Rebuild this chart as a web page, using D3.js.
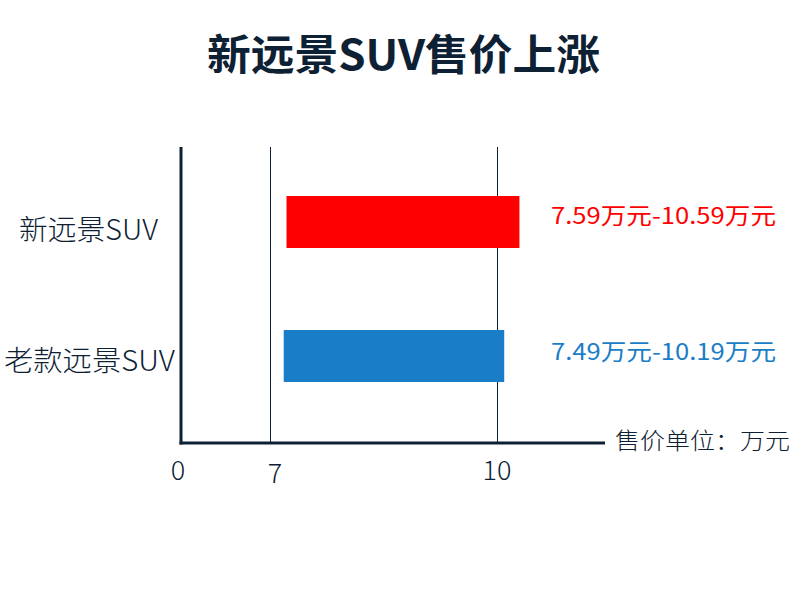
<!DOCTYPE html>
<html><head><meta charset="utf-8">
<script src="https://cdn.jsdelivr.net/npm/d3@7"></script>
<style>body{margin:0;background:#fff}svg{display:block}</style>
</head><body>
<svg id="c" width="800" height="600"></svg>
<script>
const title = "新远景SUV售价上涨";
const categories = ["新远景SUV", "老款远景SUV"];
const minPrice = [7.59, 7.49];
const maxPrice = [10.59, 10.19];
const priceLabels = ["7.59万元-10.59万元", "7.49万元-10.19万元"];
const barColors = ["#ff0000", "#1a7dc7"];
const tickValues = [0, 7, 10];
const gridValues = [7, 10];
const unitLabel = "售价单位：万元";

const svg = d3.select("#c");
const ink = "#0e2134";
const font = "'Noto Sans CJK SC', 'Noto Sans', sans-serif";

// broken (piecewise) axis, as in the original infographic
const x = d3.scaleLinear().domain([0, 7, 8, 10, 11]).range([181, 270, 298, 497, 535]);
const y = d3.scaleBand().domain(categories).range([155, 423]).paddingInner(0.612).paddingOuter(0.306);

svg.append("text").attr("x", 403.5).attr("y", 70).attr("text-anchor", "middle")
  .attr("font-family", font).attr("font-weight", 700).attr("font-size", 42).attr("fill", ink)
  .attr("textLength", 393).attr("lengthAdjust", "spacingAndGlyphs").text(title);

// grid lines
svg.selectAll("line.grid").data(gridValues).join("line").attr("class", "grid")
  .attr("x1", d => x(d) + 0.5).attr("x2", d => x(d) + 0.5).attr("y1", 147).attr("y2", 443)
  .attr("stroke", ink).attr("stroke-width", 1);

// bars
const data = categories.map((c, i) => ({c, lo: minPrice[i], hi: maxPrice[i], label: priceLabels[i], color: barColors[i]}));
svg.selectAll("rect.bar").data(data).join("rect").attr("class", "bar")
  .attr("x", d => x(d.lo)).attr("width", d => x(d.hi) - x(d.lo))
  .attr("y", d => y(d.c)).attr("height", y.bandwidth()).attr("fill", d => d.color);

// value labels
svg.selectAll("text.val").data(data).join("text").attr("class", "val")
  .attr("x", 776).attr("y", (d, i) => y(d.c) + y.bandwidth() / 2 + (i === 0 ? 2 : 4)).attr("text-anchor", "end")
  .attr("font-family", font).attr("font-weight", 400).attr("font-size", 23).attr("fill", d => d.color)
  .attr("textLength", 225).attr("lengthAdjust", "spacingAndGlyphs").text(d => d.label);

// category labels
svg.selectAll("text.cat").data(data).join("text").attr("class", "cat")
  .attr("x", (d, i) => i === 0 ? 88.5 : 89.5).attr("y", (d, i) => y(d.c) + y.bandwidth() / 2 + (i === 0 ? 18 : 15))
  .attr("text-anchor", "middle")
  .attr("font-family", font).attr("font-weight", 300).attr("font-size", 28).attr("fill", ink)
  .attr("textLength", (d, i) => i === 0 ? 139 : 171).attr("lengthAdjust", "spacingAndGlyphs").text(d => d.c);

// axes
svg.append("line").attr("x1", 181).attr("x2", 181).attr("y1", 147).attr("y2", 444.5)
  .attr("stroke", ink).attr("stroke-width", 3);
svg.append("line").attr("x1", 179.5).attr("x2", 605).attr("y1", 443).attr("y2", 443)
  .attr("stroke", ink).attr("stroke-width", 3);

// tick labels
svg.selectAll("text.tick").data(tickValues).join("text").attr("class", "tick")
  .attr("x", d => d === 0 ? 178 : d === 7 ? 275 : 497).attr("y", d => d === 7 ? 483 : 480)
  .attr("text-anchor", "middle")
  .attr("font-family", font).attr("font-weight", 300).attr("font-size", 27).attr("fill", ink).text(d => d);

svg.append("text").attr("x", 790).attr("y", 449).attr("text-anchor", "end")
  .attr("font-family", font).attr("font-weight", 300).attr("font-size", 23).attr("fill", ink)
  .attr("textLength", 175).attr("lengthAdjust", "spacingAndGlyphs").text(unitLabel);
</script>
</body></html>
